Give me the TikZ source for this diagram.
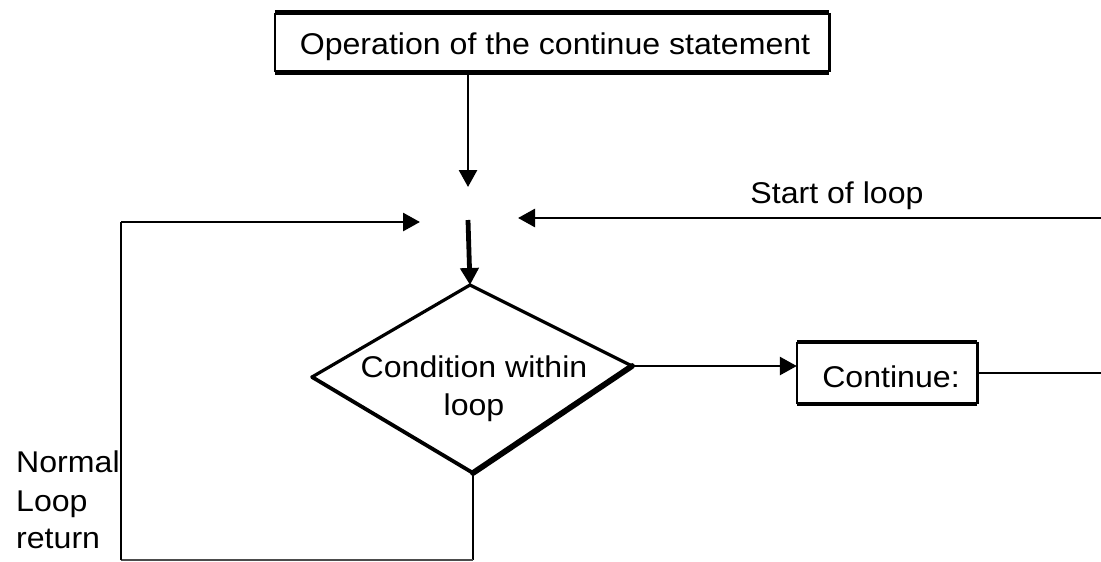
\documentclass[tikz,border=0pt]{standalone}
\usepackage{fontspec}
\setmainfont{Liberation Sans}[FakeStretch=1.07]
\usetikzlibrary{arrows.meta}
\tikzset{
  lbl/.style={inner sep=0pt, font=\fontsize{30}{35}\selectfont},
  link/.style={line width=2.8pt},
  heavy/.style={line width=4.8pt},
  thinlink/.style={line width=2.1pt},
  tip/.style={-{Triangle[length=17pt,width=18pt]}},
  frame/.style={inner sep=0pt, draw=none},
}
\begin{document}
\begin{tikzpicture}[x=1pt,y=-1pt]
\useasboundingbox (0,0) rectangle (1101,562);

% title box
\node[frame, minimum width=554pt, minimum height=59pt] (titlebox) at (552,42.5) {};
\draw[line width=5.2pt] (titlebox.north west) -- (titlebox.north east);
\draw[line width=4.8pt] (titlebox.south west) -- (titlebox.south east);
\draw[line width=1.8pt] (titlebox.north west) -- (titlebox.south west);
\draw[line width=3.2pt] (titlebox.north east) -- (titlebox.south east);
\node[lbl, anchor=base] (titletext) at (555,54) {Operation of the continue statement};

% merge point above the decision
\coordinate (jn) at (468,187);
\coordinate (jw) at (420,222);
\coordinate (je) at (518,218);
\coordinate (js) at (468,220);

% decision diamond
\coordinate (dtop)    at (470,285);
\coordinate (dright)  at (632,366);
\coordinate (dbottom) at (473,473);
\coordinate (dleft)   at (312,377);
\draw[line width=3.2pt, line cap=round] (dleft) -- (dtop) -- (dright);
\draw[line width=3.8pt, line cap=round] (dleft) -- (dbottom);
\draw[line width=5.8pt, line cap=round] (dright) -- (dbottom);
\node[lbl, anchor=base] (cond1) at (474,377) {Condition within};
\node[lbl, anchor=base] (cond2) at (474,415) {loop};

% continue box
\node[frame, minimum width=180pt, minimum height=62pt] (contbox) at (887,373) {};
\draw[line width=4.2pt] (contbox.north west) -- (contbox.north east);
\draw[line width=4.2pt] (contbox.south west) -- (contbox.south east);
\draw[line width=2.2pt] (contbox.north west) -- (contbox.south west);
\draw[line width=3.2pt] (contbox.north east) -- (contbox.south east);
\node[lbl, anchor=base] (conttext) at (891,387) {Continue:};

% connectors
\draw[link, tip] (titlebox.south -| jn) -- (jn);
\draw[heavy, tip] (js) -- (dtop);
\draw[link, tip] (dright) -- (contbox.west |- dright);
\coordinate (rightedge) at (1101,373);
\draw[thinlink] (contbox.east |- rightedge) -- (rightedge);
\coordinate (loopstart) at (1101,218);
\draw[link, tip] (loopstart) -- (je);
\node[lbl, anchor=base] (starttext) at (837,203) {Start of loop};

% normal loop return path
\coordinate (lb) at (476,560);
\coordinate (lc) at (121,560);
\draw[thinlink] (dbottom) -- (dbottom |- lb);
\draw[line width=1.6pt, black!70] (dbottom |- lb) -- (lc);
\draw[thinlink] (lc) -- (lc |- jw);
\draw[link, tip] (lc |- jw) -- (jw);
\node[lbl, anchor=base west] (ret1) at (16,472) {Normal};
\node[lbl, anchor=base west] (ret2) at (16,511) {Loop};
\node[lbl, anchor=base west] (ret3) at (16,548) {return};
\end{tikzpicture}
\end{document}
